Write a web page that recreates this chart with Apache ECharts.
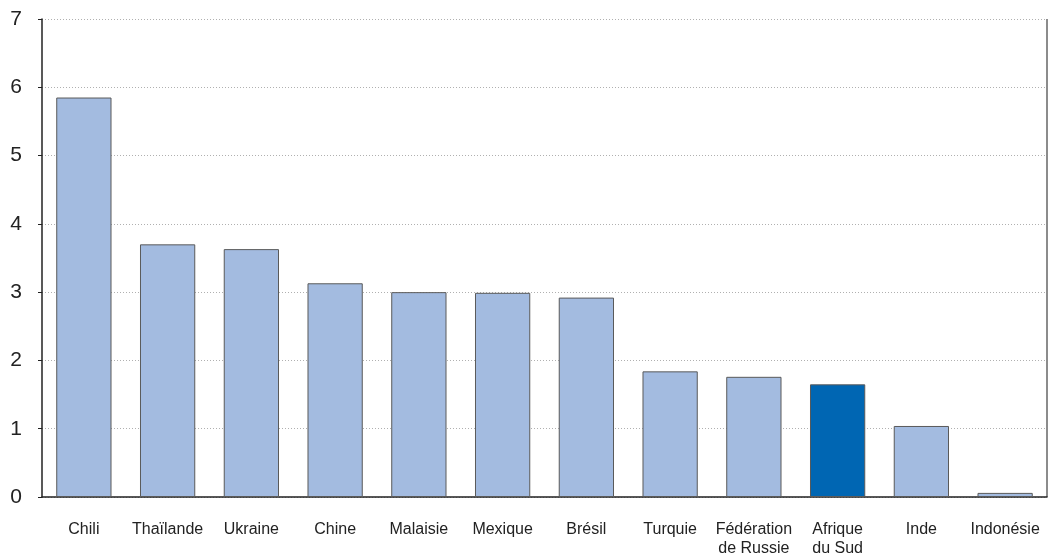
<!DOCTYPE html>
<html>
<head>
<meta charset="utf-8">
<script src="https://cdn.jsdelivr.net/npm/echarts@6/dist/echarts.min.js"></script>
<style>
  html, body { margin: 0; padding: 0; background: #fff; }
  #chart { width: 1050px; height: 560px; }
</style>
</head>
<body>
<div id="chart"></div>
<script>
var countries = ['Chili', 'Thaïlande', 'Ukraine', 'Chine', 'Malaisie', 'Mexique', 'Brésil',
  'Turquie', 'Fédération\nde Russie', 'Afrique\ndu Sud', 'Inde', 'Indonésie'];
var values = [5.85, 3.70, 3.63, 3.13, 3.00, 2.99, 2.92, 1.84, 1.76, 1.65, 1.04, 0.06];
var highlight = 'Afrique\ndu Sud';

var chart = echarts.init(document.getElementById('chart'));

var barData = values.map(function (v, i) {
  return {
    value: v,
    itemStyle: { color: countries[i] === highlight ? '#0066b3' : '#a3bbe0' }
  };
});

var option = {
  backgroundColor: '#ffffff',
  animation: false,
  grid: { left: 42, right: 3, top: 19, bottom: 63 },
  xAxis: {
    type: 'category',
    data: countries,
    axisLine: { lineStyle: { color: '#222', width: 1.5 } },
    axisTick: { show: false },
    axisLabel: {
      color: '#222',
      fontSize: 16,
      fontFamily: 'Liberation Sans, Arial, sans-serif',
      margin: 23,
      lineHeight: 19,
      interval: 0
    }
  },
  yAxis: {
    type: 'value',
    min: 0,
    max: 7,
    interval: 1,
    axisLine: { show: true, lineStyle: { color: '#222', width: 1.5 } },
    axisTick: { show: true, length: 4, lineStyle: { color: '#222' } },
    axisLabel: {
      color: '#222',
      fontSize: 21,
      fontFamily: 'Liberation Sans, Arial, sans-serif',
      margin: 20
    },
    splitLine: { lineStyle: { color: '#b0b0b0', type: [1, 2], width: 1 } }
  },
  series: [{
    type: 'bar',
    data: barData,
    barWidth: '66%',
    itemStyle: { borderColor: '#5a5a5a', borderWidth: 1 }
  }],
  graphic: [{
    type: 'line',
    shape: { x1: 1047, y1: 19, x2: 1047, y2: 497 },
    style: { stroke: '#666', lineWidth: 1.5 }
  }]
};

chart.setOption(option);
</script>
</body>
</html>
